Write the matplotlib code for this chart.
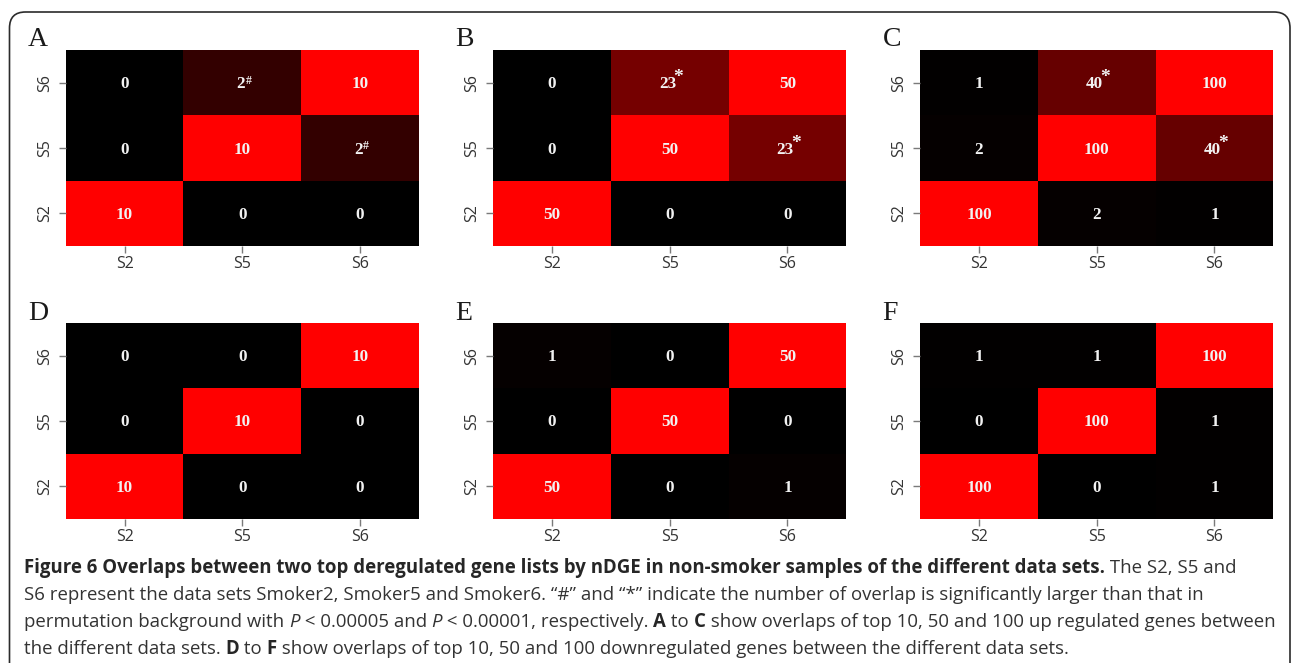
import matplotlib
matplotlib.use("Agg")
import matplotlib.pyplot as plt
import matplotlib.transforms as mtransforms
from matplotlib.colors import LinearSegmentedColormap
from matplotlib.patches import FancyBboxPatch
import numpy as np

# ---------------------------------------------------------------- data
sets = ["S2", "S5", "S6"]
panel_letters = ["A", "B", "C", "D", "E", "F"]
list_sizes = [10, 50, 100, 10, 50, 100]

# overlap[i][j]: number of shared genes between sets[i] and sets[j]
overlap_A = [[10, 0, 0], [0, 10, 2], [0, 2, 10]]
overlap_B = [[50, 0, 0], [0, 50, 23], [0, 23, 50]]
overlap_C = [[100, 2, 1], [2, 100, 40], [1, 40, 100]]
overlap_D = [[10, 0, 0], [0, 10, 0], [0, 0, 10]]
overlap_E = [[50, 0, 1], [0, 50, 0], [1, 0, 50]]
overlap_F = [[100, 0, 1], [0, 100, 1], [1, 1, 100]]

# significance marks ("#": P < 0.00005, "*": P < 0.00001)
marks_A = [["", "", ""], ["", "", "#"], ["", "#", ""]]
marks_B = [["", "", ""], ["", "", "*"], ["", "*", ""]]
marks_C = [["", "", ""], ["", "", "*"], ["", "*", ""]]
marks_none = [["", "", ""], ["", "", ""], ["", "", ""]]

overlaps = [overlap_A, overlap_B, overlap_C, overlap_D, overlap_E, overlap_F]
marks = [marks_A, marks_B, marks_C, marks_none, marks_none, marks_none]

caption_lines = [
    [("Figure 6 Overlaps between two top deregulated gene lists by nDGE in non-smoker "
      "samples of the different data sets.", "bold"), (" The S2, S5 and", "normal")],
    [("S6 represent the data sets Smoker2, Smoker5 and Smoker6. \u201c#\u201d and \u201c*\u201d "
      "indicate the number of overlap is significantly larger than that in", "normal")],
    [("permutation background with ", "normal"), ("P", "italic"),
     (" < 0.00005 and ", "normal"), ("P", "italic"),
     (" < 0.00001, respectively. ", "normal"), ("A", "bold"), (" to ", "normal"),
     ("C", "bold"), (" show overlaps of top 10, 50 and 100 up regulated genes between", "normal")],
    [("the different data sets. ", "normal"), ("D", "bold"), (" to ", "normal"),
     ("F", "bold"), (" show overlaps of top 10, 50 and 100 downregulated genes between "
                     "the different data sets.", "normal")],
]

# ---------------------------------------------------------------- style
W, H = 1292, 663
black_red = LinearSegmentedColormap.from_list("black_red", ["#000000", "#ff0000"])
SANS = "Open Sans"
SERIF = "Liberation Serif"
TEXT_GREY = "#333333"
CELL_TEXT = "#f2f2f2"
# superscript size, lift above the digits' baseline and horizontal nudge (pixels)
MARK_STYLE = {"#": dict(size=8.5, raise_px=4.5, nudge=0.5),
              "*": dict(size=14, raise_px=6.0, nudge=-2.5)}

fig = plt.figure(figsize=(W / 100, H / 100), dpi=100)
fig.patch.set_facecolor("white")
renderer = fig.canvas.get_renderer()


def px_rect(left, top, width, height):
    return [left / W, 1 - (top + height) / H, width / W, height / H]


def text_width(text, **kw):
    t1 = fig.text(0, 0, "|" + text + "|", **kw)
    t2 = fig.text(0, 0, "||", **kw)
    w = t1.get_window_extent(renderer).width - t2.get_window_extent(renderer).width
    t1.remove()
    t2.remove()
    return w


col_left = [65.7, 493, 920]
row_top = [50, 323]
panel_w, panel_h = 353.3, 196
num_kw = dict(fontfamily=SERIF, fontweight="bold", fontsize=12.3)

for k, letter in enumerate(panel_letters):
    r, c = divmod(k, 3)
    ax = fig.add_axes(px_rect(col_left[c], row_top[r], panel_w, panel_h))
    data = np.array(overlaps[k], dtype=float)
    ax.pcolormesh(np.arange(4), np.arange(4), data, cmap=black_red,
                  vmin=0, vmax=list_sizes[k], shading="flat")
    ax.set_xlim(0, 3)
    ax.set_ylim(0, 3)
    for s in ax.spines.values():
        s.set_visible(False)
    ax.set_xticks(np.arange(3) + 0.5)
    ax.set_yticks(np.arange(3) + 0.5)
    ax.set_xticklabels(sets, fontfamily=SANS, fontsize=11.5, color=TEXT_GREY)
    ax.set_yticklabels(sets, fontfamily=SANS, fontsize=11.5, color=TEXT_GREY,
                       rotation=90, va="center")
    ax.tick_params(axis="both", length=5, width=1.0, color="#7a7a7a")
    ax.tick_params(axis="x", pad=2.5)
    ax.tick_params(axis="y", pad=4)

    for i in range(3):
        for j in range(3):
            val = str(overlaps[k][i][j])
            m = marks[k][i][j]
            shift = 0.0
            if m:
                st = MARK_STYLE[m]
                mk = dict(fontfamily=SERIF, fontweight="bold", fontsize=st["size"])
                wm = text_width(m, **mk)
                wn = text_width(val, **num_kw)
                shift = -(wm + st["nudge"]) / 2 + 1.5
                tr_m = mtransforms.offset_copy(ax.transData, fig=fig,
                                               x=shift + wn / 2 + st["nudge"],
                                               y=-5.5 + st["raise_px"],
                                               units="dots")
                ax.text(j + 0.5, i + 0.5, m, ha="left", va="baseline",
                        transform=tr_m, color=CELL_TEXT, **mk)
            tr_n = mtransforms.offset_copy(ax.transData, fig=fig, x=shift, y=-5.5,
                                           units="dots")
            ax.text(j + 0.5, i + 0.5, val, ha="center", va="baseline",
                    transform=tr_n, color=CELL_TEXT, **num_kw)

    fig.text((col_left[c] - 37.5) / W, 1 - (row_top[r] - 10) / H, letter,
             fontfamily=SERIF, fontsize=20, color="#1a1a1a",
             ha="left", va="center")

# rounded frame around the figure
frame = FancyBboxPatch((9.5, -40), 1290 - 9.5, (H - 12) + 40,
                       boxstyle="round,pad=0,rounding_size=16",
                       transform=mtransforms.IdentityTransform(),
                       facecolor="none", edgecolor="#2b2b2b", linewidth=1.2)
fig.patches.append(frame)

# caption, laid out segment by segment
cap_left = 24
cap_baselines = [573, 600, 627, 654]
for line, yb in zip(caption_lines, cap_baselines):
    x = cap_left
    for text, style in line:
        kw = dict(fontfamily=SANS, fontsize=13.4, color=TEXT_GREY)
        if style == "bold":
            kw["fontweight"] = "bold"
            kw["color"] = "#262626"
        elif style == "italic":
            kw["fontstyle"] = "italic"
        fig.text(x / W, 1 - yb / H, text, ha="left", va="baseline", **kw)
        x += text_width(text, **kw)

fig.savefig("out.png", dpi=100, facecolor="white")
